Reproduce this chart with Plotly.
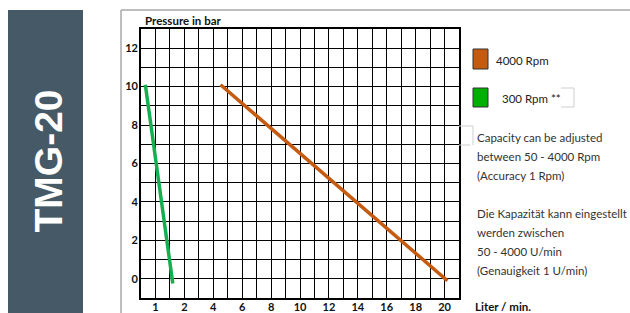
import plotly.graph_objects as go

# ---- data (axis units) ----
orange_x = [4.5, 20.2]
orange_y = [10.1, -0.1]
green_x = [-0.7, 1.2]
green_y = [10.1, -0.25]

x_tickvals = [0, 2, 4, 6, 8, 10, 12, 14, 16, 18, 20]
x_ticktext = ["1", "2", "4", "6", "8", "10", "12", "14", "16", "18", "20"]
y_tickvals = [0, 2, 4, 6, 8, 10, 12]

legend_names = ["4000 Rpm", "300 Rpm **"]
info_lines = [
    "Capacity can be adjusted",
    "between 50 - 4000 Rpm",
    "(Accuracy 1 Rpm)",
    "",
    "Die Kapazität kann eingestellt",
    "werden zwischen",
    "50 - 4000 U/min",
    "(Genauigkeit 1 U/min)",
]

ORANGE = "#c55a11"
GREEN_LINE = "#14b050"
GREEN_BOX = "#00b000"

W, H = 630, 313
L, R, T, B = 141, 459, 29, 298

def px(xp):
    return (xp - L) / (R - L)

def py(yp):
    return (B - yp) / (B - T)

fig = go.Figure()
fig.add_trace(go.Scatter(x=orange_x, y=orange_y, mode="lines",
                         line=dict(color=ORANGE, width=3.5), name=legend_names[0]))
fig.add_trace(go.Scatter(x=green_x, y=green_y, mode="lines",
                         line=dict(color=GREEN_LINE, width=3.5), name=legend_names[1]))

tickfont = dict(family="Lato", size=11, color="#111", weight="bold")
fig.update_xaxes(range=[-1, 21], tickvals=x_tickvals, ticktext=x_ticktext,
                 showgrid=True, gridcolor="black", gridwidth=1.4,
                 minor=dict(tick0=-1, dtick=1, showgrid=True, gridcolor="black", gridwidth=1.4),
                 showline=True, mirror=True, linecolor="black", linewidth=1.6,
                 zeroline=False, ticks="", ticklabelstandoff=-2,
                 tickfont=tickfont, fixedrange=True, automargin=False)
fig.update_yaxes(range=[-1, 13], tickvals=y_tickvals,
                 showgrid=True, gridcolor="black", gridwidth=1.4,
                 minor=dict(tick0=-1, dtick=1, showgrid=True, gridcolor="black", gridwidth=1.4),
                 showline=True, mirror=True, linecolor="black", linewidth=1.6,
                 zeroline=False, ticks="", ticklabelstandoff=-1,
                 tickfont=tickfont, fixedrange=True, automargin=False)

shapes = []
# left banner
shapes.append(dict(type="rect", xref="paper", yref="paper",
                   x0=px(8), x1=px(83), y0=py(H + 5), y1=py(10),
                   fillcolor="#455a66", line=dict(width=0), layer="below"))
# gray frame
shapes.append(dict(type="line", xref="paper", yref="paper",
                   x0=px(121), x1=px(121), y0=py(H + 5), y1=py(10),
                   line=dict(color="#a8a8a8", width=1.5)))
shapes.append(dict(type="line", xref="paper", yref="paper",
                   x0=px(121), x1=px(W + 5), y0=py(10), y1=py(10),
                   line=dict(color="#a8a8a8", width=1.5)))
# legend swatches
shapes.append(dict(type="rect", xref="paper", yref="paper",
                   x0=px(473), x1=px(488), y0=py(69), y1=py(49),
                   fillcolor=ORANGE, line=dict(color="#333", width=1)))
shapes.append(dict(type="rect", xref="paper", yref="paper",
                   x0=px(473), x1=px(488), y0=py(107), y1=py(88),
                   fillcolor=GREEN_BOX, line=dict(color="#333", width=1)))
# faint cell borders
faint = dict(color="#cfcfcf", width=1)
for (x0, y0, x1, y1) in [(561, 88, 574, 88), (574, 88, 574, 107), (561, 107, 574, 107),
                         (459, 126, 473, 126), (473, 126, 473, 145), (459, 145, 470, 145)]:
    shapes.append(dict(type="line", xref="paper", yref="paper",
                       x0=px(x0), x1=px(x1), y0=py(y0), y1=py(y1), line=faint))

annotations = []
annotations.append(dict(text="TMG-20", xref="paper", yref="paper",
                        x=px(47.5), y=py(161), showarrow=False, textangle=-90,
                        font=dict(family="Liberation Sans", size=39, color="white", weight="bold"),
                        xanchor="center", yanchor="middle"))
annotations.append(dict(text="Pressure in bar", xref="paper", yref="paper",
                        x=px(143), y=py(21), showarrow=False, xanchor="left", yanchor="middle",
                        font=dict(family="Lato", size=11.5, color="#111", weight="bold")))
annotations.append(dict(text="Liter / min.", xref="paper", yref="paper",
                        x=px(473), y=py(306), showarrow=False, xanchor="left", yanchor="middle",
                        font=dict(family="Lato", size=11.5, color="#111", weight="bold")))
annotations.append(dict(text=legend_names[0], xref="paper", yref="paper",
                        x=px(494), y=py(60), showarrow=False, xanchor="left", yanchor="middle",
                        font=dict(family="Lato", size=11.5, color="#222")))
annotations.append(dict(text=legend_names[1], xref="paper", yref="paper",
                        x=px(500), y=py(98), showarrow=False, xanchor="left", yanchor="middle",
                        font=dict(family="Lato", size=11.5, color="#222")))
for i, line in enumerate(info_lines):
    if not line:
        continue
    annotations.append(dict(text=line, xref="paper", yref="paper",
                            x=px(475), y=py(137 + i * 19), showarrow=False,
                            xanchor="left", yanchor="middle",
                            font=dict(family="Lato", size=11.5, color="#333")))

fig.update_layout(width=W, height=H, margin=dict(l=L, r=W - R, t=T, b=H - B, autoexpand=False),
                  paper_bgcolor="white", plot_bgcolor="white", showlegend=False,
                  shapes=shapes, annotations=annotations)

fig.write_html("out.html", config=dict(displayModeBar=False),
               post_script="document.body.style.margin='0';document.body.style.overflow='hidden';")
